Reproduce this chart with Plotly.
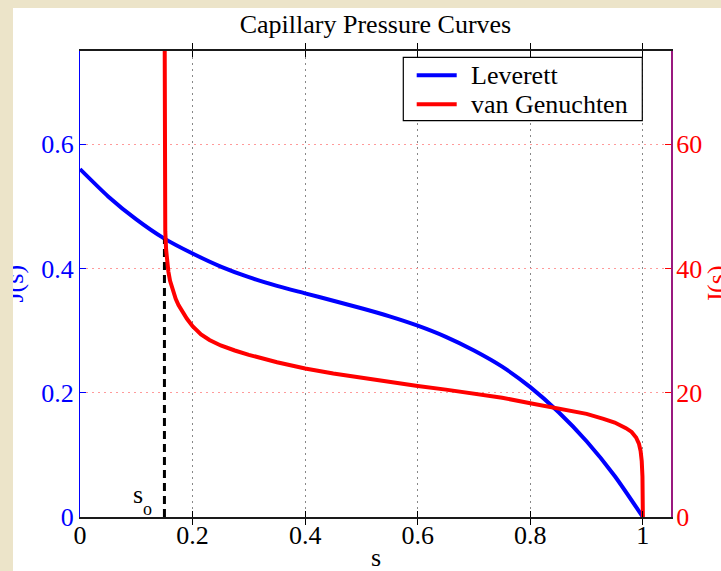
import plotly.graph_objects as go

# ---------------- data ----------------
s_lev = [0.00, 0.05, 0.10, 0.15, 0.20, 0.25, 0.30, 0.35, 0.40, 0.45, 0.50,
         0.55, 0.60, 0.65, 0.70, 0.75, 0.80, 0.85, 0.90, 0.95, 1.00]
J_lev = [0.560, 0.516, 0.479, 0.448, 0.424, 0.403, 0.386, 0.372, 0.360, 0.348, 0.336,
         0.323, 0.308, 0.290, 0.268, 0.242, 0.209, 0.169, 0.122, 0.066, 0.000]

s_vg = [0.1500, 0.1501, 0.1503, 0.1507, 0.1515, 0.153, 0.155, 0.157, 0.160, 0.163,
        0.166, 0.170, 0.175, 0.180, 0.190, 0.200, 0.215, 0.230, 0.250, 0.275,
        0.300, 0.350, 0.400, 0.450, 0.500, 0.550, 0.600, 0.650, 0.700, 0.750,
        0.800, 0.850, 0.900, 0.930, 0.950, 0.970, 0.980, 0.988, 0.993, 0.996,
        0.998, 0.9993, 0.9999, 1.000]
J_vg = [90.0, 70.0, 58.0, 51.0, 46.0, 43.0, 41.0, 39.5, 38.0, 37.0,
        36.2, 35.1, 34.1, 33.3, 31.9, 30.7, 29.4, 28.5, 27.6, 26.8,
        26.1, 24.9, 23.9, 23.1, 22.4, 21.7, 21.1, 20.5, 19.9, 19.2,
        18.3, 17.5, 16.6, 15.8, 15.2, 14.3, 13.7, 12.8, 11.8, 10.6,
        9.0, 6.5, 3.0, 0.0]

s_o = [0.15, 0.15]
J_o = [0.0, 0.448]

x_ticks = [0, 0.2, 0.4, 0.6, 0.8, 1.0]
x_ticktext = ["0", "0.2", "0.4", "0.6", "0.8", "1"]
y_ticks = [0, 0.2, 0.4, 0.6]
y_ticktext = ["0", "0.2", "0.4", "0.6"]
y2_ticks = [0, 20, 40, 60]
y2_ticktext = ["0", "20", "40", "60"]

legend_names = ["Leverett", "van Genuchten"]
legend_colors = ["#0000ff", "#ff0000"]

# ---------------- style ----------------
FONT = "Liberation Serif"
FS = 26
BEIGE = "#ece4c9"
W, H = 721, 571
ML, MR, MT, MB = 80, 50, 51, 54
PW, PH = W - ML - MR, H - MT - MB


def px(xp):
    return (xp - ML) / PW


def py(yp):
    return (H - MB - yp) / PH


fig = go.Figure()
fig.add_trace(go.Scatter(x=s_lev, y=J_lev, mode="lines", name=legend_names[0],
                         line=dict(color=legend_colors[0], width=4, shape="spline", smoothing=0.6),
                         yaxis="y"))
fig.add_trace(go.Scatter(x=s_o, y=J_o, mode="lines", name="s_o",
                         line=dict(color="black", width=3, dash="8px,5px"), yaxis="y"))
fig.add_trace(go.Scatter(x=s_vg, y=J_vg, mode="lines", name=legend_names[1],
                         line=dict(color=legend_colors[1], width=4), yaxis="y2"))

fig.update_layout(
    width=W, height=H,
    margin=dict(l=ML, r=MR, t=MT, b=MB, pad=0),
    paper_bgcolor="white", plot_bgcolor="white",
    font=dict(family=FONT, size=FS, color="black"),
    showlegend=False,
    title=dict(text="Capillary Pressure Curves", x=0.5, xref="paper", xanchor="center",
               y=1, yref="paper", yanchor="bottom", pad=dict(b=18),
               font=dict(family=FONT, size=FS, color="black")),
    xaxis=dict(range=[0, 1.05], tickvals=x_ticks, ticktext=x_ticktext,
               showline=True, linecolor="#1a1a1a", linewidth=1.5, mirror="allticks",
               ticks="inside", ticklen=6, tickcolor="black", tickwidth=1,
               showgrid=True, gridcolor="#888888", gridwidth=1, griddash="2px,4px",
               zeroline=False, ticklabelstandoff=-6,
               tickfont=dict(family=FONT, size=FS, color="black")),
    yaxis=dict(range=[0, 0.75], tickvals=y_ticks, ticktext=y_ticktext,
               showline=True, linecolor="#0000ff", linewidth=1,
               ticks="inside", ticklen=6, tickcolor="#0000ff",
               showgrid=False, zeroline=False,
               tickfont=dict(family=FONT, size=FS, color="#0000ff")),
    yaxis2=dict(range=[0, 75], tickvals=y2_ticks, ticktext=y2_ticktext,
                overlaying="y", side="right",
                showline=True, linecolor="#99197f", linewidth=2,
                ticks="inside", ticklen=6, tickcolor="#ff0000",
                showgrid=True, gridcolor="#ff9a9a", gridwidth=1, griddash="2px,4px",
                zeroline=False, ticklabelstandoff=-2,
                tickfont=dict(family=FONT, size=FS, color="#ff0000")),
)

# ---------------- legend (drawn by hand to match the compact box) ----------------
shapes = [
    dict(type="rect", xref="paper", yref="paper", x0=px(403.3), x1=px(642.3),
         y0=py(120.7), y1=py(57.3), fillcolor="white",
         line=dict(color="black", width=1.2), layer="above"),
]
legend_rows_y = [75.2, 104.2]
annotations = []
for name, col, yy in zip(legend_names, legend_colors, legend_rows_y):
    shapes.append(dict(type="line", xref="paper", yref="paper", x0=px(416.7), x1=px(456.7),
                       y0=py(yy), y1=py(yy), line=dict(color=col, width=4), layer="above"))
    annotations.append(dict(text=name, xref="paper", yref="paper", x=px(470.0), y=py(yy + 0.4),
                            xanchor="left", yanchor="middle", showarrow=False, borderpad=0,
                            font=dict(family=FONT, size=FS, color="black")))

annotations += [
    # x-axis label
    dict(text="s", xref="paper", yref="paper", x=0.5, y=0, xanchor="center", yanchor="top",
         yshift=-25, showarrow=False, borderpad=0,
         font=dict(family=FONT, size=FS, color="black")),
    # left y label
    dict(text="J(s)", xref="paper", yref="paper", x=0, y=0.5, xanchor="center", yanchor="middle",
         xshift=13.5 - ML, textangle=-90, showarrow=False,
         font=dict(family=FONT, size=FS, color="#0000ff")),
    # right y label
    dict(text="J(s)", xref="paper", yref="paper", x=1, y=0.5, xanchor="center", yanchor="middle",
         xshift=716 - (W - MR), textangle=-90, showarrow=False,
         font=dict(family=FONT, size=FS, color="#ff0000")),
    # s_o marker label (s with subscript o)
    dict(text="s", xref="x", yref="y", x=0.1030, y=0, xanchor="center", yanchor="bottom",
         yshift=7, showarrow=False, borderpad=0,
         font=dict(family=FONT, size=FS, color="black")),
    dict(text="o", xref="x", yref="y", x=0.1195, y=0, xanchor="center", yanchor="bottom",
         yshift=-3, showarrow=False, borderpad=0,
         font=dict(family=FONT, size=18, color="black")),
    # beige frame strips (drawn last, on top)
    dict(text="\u00a0", xref="paper", yref="paper", x=0, y=1, xanchor="left", yanchor="top",
         xshift=-ML, yshift=MT, width=W, height=8, bgcolor=BEIGE, borderpad=0, borderwidth=0,
         showarrow=False),
    dict(text="\u00a0", xref="paper", yref="paper", x=0, y=1, xanchor="left", yanchor="top",
         xshift=-ML, yshift=MT, width=13, height=H, bgcolor=BEIGE, borderpad=0, borderwidth=0,
         showarrow=False),
]
fig.update_layout(annotations=annotations, shapes=shapes)

fig.write_html("out.html")
